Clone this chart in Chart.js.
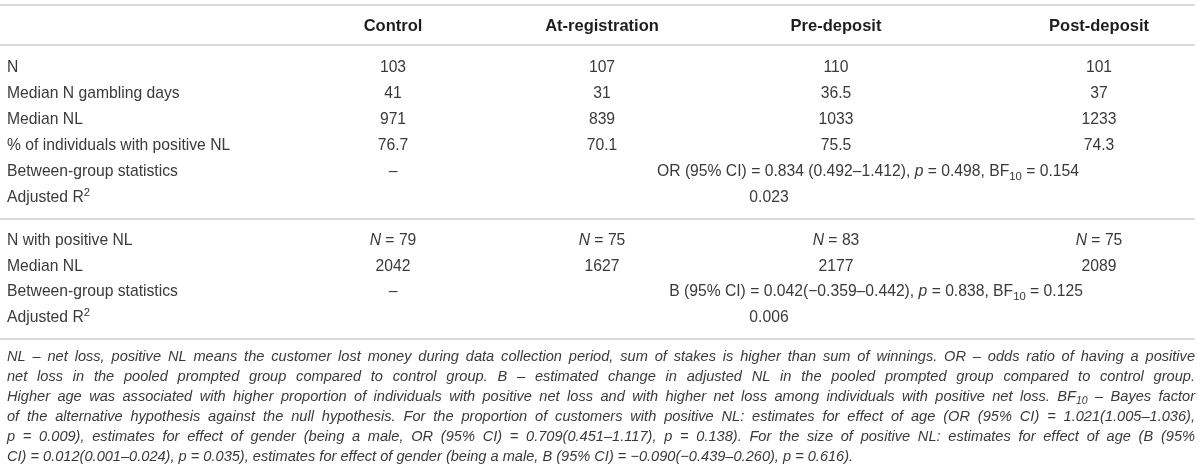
<!DOCTYPE html>
<html>
<head>
<meta charset="utf-8">
<script src="https://cdn.jsdelivr.net/npm/chart.js@4.4.1/dist/chart.umd.min.js"></script>
<style>
  html, body { margin: 0; background: #fff; }
  #wrap { width: 1200px; height: 475px; }
</style>
</head>
<body>
<div id="wrap"><canvas id="chartTabla"></canvas></div>
<script>
// Datos de la tabla
const groups = ['Control', 'At-registration', 'Pre-deposit', 'Post-deposit'];
const rowLabels1 = ['N', 'Median N gambling days', 'Median NL', '% of individuals with positive NL', 'Between-group statistics', 'Adjusted R^2^'];
const nValues = ['103', '107', '110', '101'];
const gamblingDays = ['41', '31', '36.5', '37'];
const medianNL = ['971', '839', '1033', '1233'];
const pctPositive = ['76.7', '70.1', '75.5', '74.3'];
const betweenStats1 = ['–', 'OR (95% CI) = 0.834 (0.492–1.412), *p* = 0.498, BF_10_ = 0.154'];
const adjR2First = '0.023';

const rowLabels2 = ['N with positive NL', 'Median NL', 'Between-group statistics', 'Adjusted R^2^'];
const nPositive = ['*N* = 79', '*N* = 75', '*N* = 83', '*N* = 75'];
const medianNLPositive = ['2042', '1627', '2177', '2089'];
const betweenStats2 = ['–', 'B (95% CI) = 0.042(−0.359–0.442), *p* = 0.838, BF_10_ = 0.125'];
const adjR2Second = '0.006';

const footnoteLines = [
    'NL – net loss, positive NL means the customer lost money during data collection period, sum of stakes is higher than sum of winnings. OR – odds ratio of having a positive',
    'net loss in the pooled prompted group compared to control group. B – estimated change in adjusted NL in the pooled prompted group compared to control group.',
    'Higher age was associated with higher proportion of individuals with positive net loss and with higher net loss among individuals with positive net loss. BF_10_ – Bayes factor',
    'of the alternative hypothesis against the null hypothesis. For the proportion of customers with positive NL: estimates for effect of age (OR (95% CI) = 1.021(1.005–1.036),',
    'p = 0.009), estimates for effect of gender (being a male, OR (95% CI) = 0.709(0.451–1.117), p = 0.138). For the size of positive NL: estimates for effect of age (B (95%',
    'CI) = 0.012(0.001–0.024), p = 0.035), estimates for effect of gender (being a male, B (95% CI) = −0.090(−0.439–0.260), p = 0.616).'
];

// Disposición (unidades de las escalas)
const colX = [393, 602, 836, 1099];
const labelX = 7;
const rightX = 1195;
const spanX1 = 868, spanX2 = 876, r2X = 769;
const headerY = 26;
const rowsY1 = [68, 94, 120, 146, 172, 198];
const rowsY2 = [241, 267, 292, 318];
const rulesY = [5, 45, 219, 339];
const footY0 = 357, footStep = 20;

const FAMILY = '"Liberation Sans", Arial, sans-serif';
const TEXT_COLOR = '#3a3a3a';

function parseRich(s) {
    const parts = [];
    const re = /\*([^*]+)\*|_([^_]+)_|\^([^^]+)\^/g;
    let last = 0, m;
    while ((m = re.exec(s))) {
        if (m.index > last) parts.push({ t: s.slice(last, m.index) });
        if (m[1]) parts.push({ t: m[1], it: true });
        else if (m[2]) parts.push({ t: m[2], sub: true });
        else parts.push({ t: m[3], sup: true });
        last = re.lastIndex;
    }
    if (last < s.length) parts.push({ t: s.slice(last) });
    return parts;
}

function partFont(p, st) {
    const size = (p.sub || p.sup) ? st.size * 0.72 : st.size;
    const italic = (p.it || st.italic) ? 'italic ' : '';
    return italic + (st.bold ? 'bold ' : '') + size + 'px ' + FAMILY;
}

function richWidth(ctx, parts, st) {
    let w = 0;
    parts.forEach(p => { ctx.font = partFont(p, st); w += ctx.measureText(p.t).width; });
    return w;
}

function drawParts(ctx, parts, x, y, st) {
    parts.forEach(p => {
        ctx.font = partFont(p, st);
        let dy = 0;
        if (p.sub) dy = st.size * 0.3;
        if (p.sup) dy = -st.size * 0.35;
        ctx.fillText(p.t, x, y + dy);
        x += ctx.measureText(p.t).width;
    });
}

function drawRich(ctx, text, x, y, align, st) {
    const parts = parseRich(text);
    const w = richWidth(ctx, parts, st);
    let sx = x;
    if (align === 'center') sx = x - w / 2;
    else if (align === 'right') sx = x - w;
    drawParts(ctx, parts, sx, y, st);
}

// Texto justificado: reparte el espacio sobrante entre las palabras
function drawJustified(ctx, text, x0, x1, y, st, justify) {
    const words = text.split(' ').map(w => parseRich(w));
    const widths = words.map(w => richWidth(ctx, w, st));
    const total = widths.reduce((a, b) => a + b, 0);
    ctx.font = partFont({}, st);
    const space = ctx.measureText(' ').width;
    const gap = justify && words.length > 1 ? (x1 - x0 - total) / (words.length - 1) : space;
    let cx = x0;
    words.forEach((w, i) => {
        drawParts(ctx, w, cx, y, st);
        cx += widths[i] + gap;
    });
}

const tablaTextPlugin = {
    id: 'tablaText',
    afterDatasetsDraw(chart) {
        const ctx = chart.ctx;
        const sx = chart.scales.x, sy = chart.scales.y;
        const X = v => sx.getPixelForValue(v);
        const Y = v => sy.getPixelForValue(v);
        const body = { size: 15.7, bold: false, italic: false };
        const head = { size: 16.5, bold: true, italic: false };
        const foot = { size: 14.6, bold: false, italic: true };

        ctx.save();
        ctx.textBaseline = 'middle';

        ctx.fillStyle = '#1e1e1e';
        groups.forEach((g, i) => drawRich(ctx, g, X(colX[i]), Y(headerY), 'center', head));

        ctx.fillStyle = TEXT_COLOR;
        rowLabels1.forEach((l, i) => drawRich(ctx, l, X(labelX), Y(rowsY1[i]), 'left', body));
        [nValues, gamblingDays, medianNL, pctPositive].forEach((row, r) => {
            row.forEach((v, i) => drawRich(ctx, v, X(colX[i]), Y(rowsY1[r]), 'center', body));
        });
        drawRich(ctx, betweenStats1[0], X(colX[0]), Y(rowsY1[4]), 'center', body);
        drawRich(ctx, betweenStats1[1], X(spanX1), Y(rowsY1[4]), 'center', body);
        drawRich(ctx, adjR2First, X(r2X), Y(rowsY1[5]), 'center', body);

        rowLabels2.forEach((l, i) => drawRich(ctx, l, X(labelX), Y(rowsY2[i]), 'left', body));
        [nPositive, medianNLPositive].forEach((row, r) => {
            row.forEach((v, i) => drawRich(ctx, v, X(colX[i]), Y(rowsY2[r]), 'center', body));
        });
        drawRich(ctx, betweenStats2[0], X(colX[0]), Y(rowsY2[2]), 'center', body);
        drawRich(ctx, betweenStats2[1], X(spanX2), Y(rowsY2[2]), 'center', body);
        drawRich(ctx, adjR2Second, X(r2X), Y(rowsY2[3]), 'center', body);

        footnoteLines.forEach((line, i) => {
            const last = i === footnoteLines.length - 1;
            drawJustified(ctx, line, X(labelX), X(rightX), Y(footY0 + i * footStep), foot, !last);
        });
        ctx.restore();
    }
};

// Líneas horizontales de la tabla como datasets
const ruleDatasets = rulesY.map(y => ({
    data: [{ x: 0, y: y }, { x: rightX, y: y }],
    showLine: true,
    borderColor: '#dadada',
    borderWidth: 2,
    pointRadius: 0,
    fill: false
}));

const ctxTabla = document.getElementById('chartTabla').getContext('2d');
new Chart(ctxTabla, {
    type: 'scatter',
    data: { datasets: ruleDatasets },
    options: {
        responsive: true,
        maintainAspectRatio: false,
        animation: false,
        layout: { padding: 0 },
        scales: {
            x: { type: 'linear', min: 0, max: 1200, display: false },
            y: { type: 'linear', min: 0, max: 475, reverse: true, display: false }
        },
        plugins: { legend: { display: false }, tooltip: { enabled: false } }
    },
    plugins: [tablaTextPlugin]
});
</script>
</body>
</html>
